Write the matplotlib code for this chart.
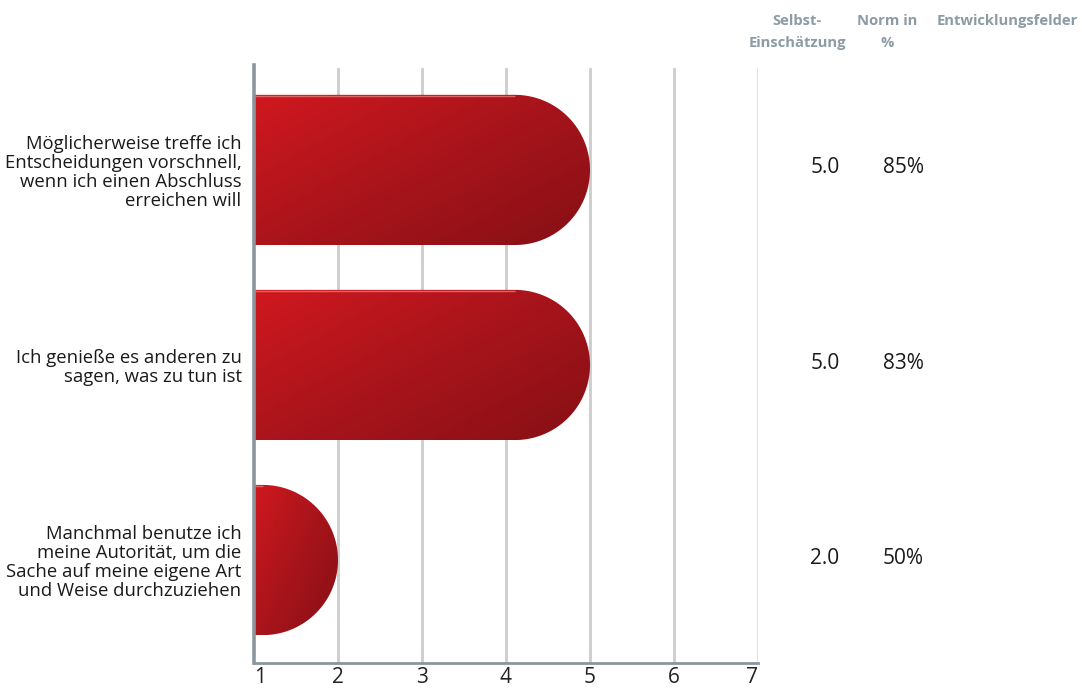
import numpy as np
import matplotlib
matplotlib.use("Agg")
import matplotlib.pyplot as plt
from matplotlib.path import Path
from matplotlib.colors import LinearSegmentedColormap
import matplotlib.transforms as mtransforms

plt.rcParams['font.family'] = ['Open Sans', 'DejaVu Sans']

# --- data ---
statements = [
    "Möglicherweise treffe ich\nEntscheidungen vorschnell,\nwenn ich einen Abschluss\nerreichen will",
    "Ich genieße es anderen zu\nsagen, was zu tun ist",
    "Manchmal benutze ich\nmeine Autorität, um die\nSache auf meine eigene Art\nund Weise durchzuziehen",
]
self_scores = [5.0, 5.0, 2.0]
norm_pct = [85, 83, 50]
x_ticks = [1, 2, 3, 4, 5, 6, 7]
headers = ["Selbst-\nEinschätzung", "Norm in\n%", "Entwicklungsfelder"]

W, H = 1082, 689
fig = plt.figure(figsize=(W / 100, H / 100), dpi=100)
ax = fig.add_axes([254 / W, 26 / H, 504 / W, 598 / H])

X0 = 1.0
BAR_H = 0.77
ax.set_xlim(1, 7)
ax.set_ylim(2.528, -0.538)

# px per unit, to keep the round end circular
px_x = 504 / 6.0
px_y = 598 / (2.528 + 0.538)

cmap = LinearSegmentedColormap.from_list("bar", ["#d0181f", "#a8141b", "#861015"])

for i, v in enumerate(self_scores):
    y0, y1 = i - BAR_H / 2, i + BAR_H / 2
    r_px = BAR_H * px_y / 2
    rx = min(r_px / px_x, v - X0)
    flat_end = v - rx
    ry = BAR_H / 2
    th = np.linspace(-np.pi / 2, np.pi / 2, 80)
    arc = np.column_stack([flat_end + rx * np.cos(th), i + ry * np.sin(th)])
    verts = np.vstack([[X0, y0], [flat_end, y0], arc, [flat_end, y1], [X0, y1], [X0, y0]])
    path = Path(verts, closed=True)

    uu, vv = np.meshgrid(np.linspace(0, 1, 200), np.linspace(0, 1, 100))
    grad = 0.55 * uu + 0.45 * vv
    im = ax.imshow(grad, cmap=cmap, extent=[X0, v, y1, y0], origin="upper",
                   aspect="auto", zorder=3, interpolation="bilinear")
    patch = matplotlib.patches.PathPatch(path, transform=ax.transData,
                                         facecolor="none", edgecolor="none")
    ax.add_patch(patch)
    im.set_clip_path(patch)
    # thin light edge on top
    ax.plot([X0, flat_end], [y0 + 0.004, y0 + 0.004], color="#e06468", lw=1.0,
            zorder=4, solid_capstyle="butt")

# gridlines
for t in x_ticks[1:-1]:
    ax.axvline(t, ymin=0, ymax=(663 - 69) / 598, color="#cccccc", lw=2, zorder=1)
ax.axvline(x_ticks[-1], ymin=0, ymax=(663 - 69) / 598, color="#dddddd", lw=1.2, zorder=1)

ax.set_yticks(range(len(statements)))
ax.set_yticklabels(statements, fontsize=13.3, color="#1a1a1a",
                   linespacing=1.06, multialignment="right")
ax.tick_params(axis="y", length=0, pad=9)

ax.set_xticks(x_ticks)
ax.set_xticklabels([str(t) for t in x_ticks], fontsize=15, color="#222222")
ax.tick_params(axis="x", length=0, pad=3)
xl = ax.get_xticklabels()
xl[0].set_ha("left")
xl[-1].set_ha("right")

for s in ("top", "right"):
    ax.spines[s].set_visible(False)
ax.spines["left"].set_color("#8a979d")
ax.spines["left"].set_linewidth(2.6)
ax.spines["bottom"].set_color("#8a979d")
ax.spines["bottom"].set_linewidth(2.0)
ax.spines["left"].set_zorder(5)

trans = mtransforms.blended_transform_factory(fig.transFigure, ax.transData)
for i, (s, n) in enumerate(zip(self_scores, norm_pct)):
    ax.text(825 / W, i - 0.01, f"{s:.1f}", transform=trans, ha="center", va="center",
            fontsize=15, color="#1a1a1a")
    ax.text(903 / W, i - 0.01, f"{n}%", transform=trans, ha="center", va="center",
            fontsize=15, color="#1a1a1a")

for hx, txt in zip([797, 887, 1007], headers):
    fig.text(hx / W, 1 - 14 / H, txt, ha="center", va="top", fontsize=10.6,
             fontweight="bold", color="#8c9ba5", linespacing=1.75)

fig.savefig("out.png", dpi=100, facecolor="white")
